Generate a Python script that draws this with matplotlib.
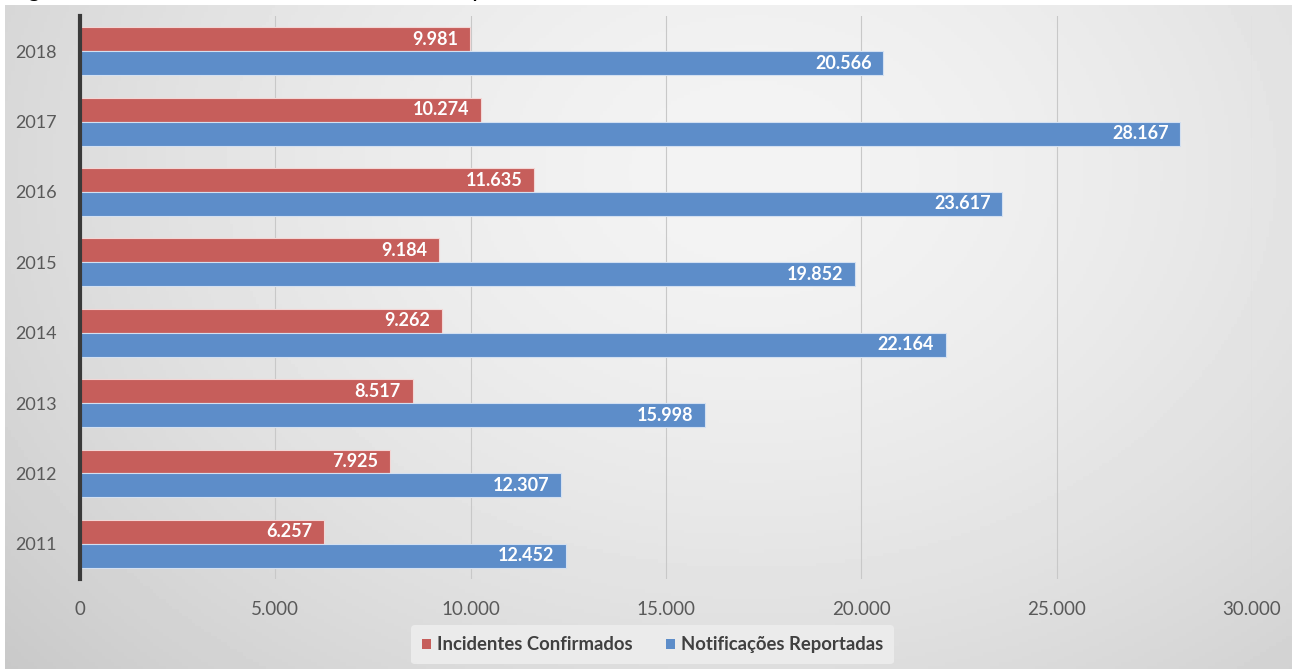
import matplotlib.pyplot as plt
import numpy as np
from matplotlib.ticker import FuncFormatter

years = ["2011", "2012", "2013", "2014", "2015", "2016", "2017", "2018"]
incidentes = [6257, 7925, 8517, 9262, 9184, 11635, 10274, 9981]
notificacoes = [12452, 12307, 15998, 22164, 19852, 23617, 28167, 20566]

red = "#C65E5B"
blue = "#5D8DC9"
text_gray = "#595959"
font = ["Lato", "DejaVu Sans"]


def thousands(v, _pos=None):
    return f"{int(v):,}".replace(",", ".")


fig = plt.figure(figsize=(12.92, 6.69), dpi=100)
fig.patch.set_facecolor("white")

# soft gray gradient panel behind the chart
bg = fig.add_axes([0.004, 0.0, 0.996, 0.992])
gx, gy = np.meshgrid(np.linspace(0, 1, 400), np.linspace(0, 1, 200))
dist = np.sqrt(((gx - 0.58) / 0.75) ** 2 + ((gy - 0.25) / 1.1) ** 2)
shade = np.clip(0.955 - 0.16 * dist ** 1.6, 0.78, 0.96)
bg.imshow(shade, cmap="gray", vmin=0, vmax=1, aspect="auto", extent=[0, 1, 0, 1])
bg.set_axis_off()

# caption above the panel (only its lower part sits inside the page)
fig.text(0.004, 1.0 + 4 / 669, "Figura 1 – Estatísticas de Incidentes Reportados ao CTIR Gov",
         fontsize=19, family=["Liberation Sans", "DejaVu Sans"], va="baseline", ha="left")

ax = fig.add_axes([0.0619, 0.1345, 0.907, 0.8415])
ax.patch.set_alpha(0)
y = np.arange(len(years))
h = 0.34
bars_r = ax.barh(y + h / 2, incidentes, height=h, color=red, edgecolor="#F3D6D5",
                 linewidth=0.8, label="Incidentes Confirmados", zorder=3)
bars_b = ax.barh(y - h / 2, notificacoes, height=h, color=blue, edgecolor="#D3E0F1",
                 linewidth=0.8, label="Notificações Reportadas", zorder=3)

for bars, vals in ((bars_r, incidentes), (bars_b, notificacoes)):
    for bar, v in zip(bars, vals):
        ax.text(v - 300, bar.get_y() + bar.get_height() / 2, thousands(v),
                ha="right", va="center", color="white", fontsize=13,
                fontweight="bold", family=font, zorder=4)

ax.set_xlim(0, 30000)
ax.set_ylim(-0.5, 7.5)
ax.set_xticks(range(0, 30001, 5000))
ax.xaxis.set_major_formatter(FuncFormatter(thousands))
ax.set_yticks(y)
ax.set_yticklabels(years)
ax.tick_params(axis="x", length=0, pad=16, labelsize=13.5, labelcolor=text_gray)
ax.tick_params(axis="y", length=0, pad=17, labelsize=13, labelcolor=text_gray)
for lbl in ax.get_xticklabels() + ax.get_yticklabels():
    lbl.set_family(font)

ax.grid(axis="x", color="#C8C8C8", linewidth=0.8, zorder=1)
ax.grid(axis="y", visible=False)
for side in ("top", "right", "bottom"):
    ax.spines[side].set_visible(False)
ax.spines["left"].set_color("#3A3A3A")
ax.spines["left"].set_linewidth(3)
ax.spines["left"].set_zorder(5)

leg = fig.legend(handles=[bars_r, bars_b], loc="center", bbox_to_anchor=(0.505, 0.036),
                 ncol=2, frameon=True, handlelength=0.5, handleheight=0.5,
                 handletextpad=0.3, columnspacing=1.8, borderpad=0.6,
                 prop={"family": font, "weight": "bold", "size": 13.3})
leg.get_frame().set_facecolor("#EDEDED")
leg.get_frame().set_edgecolor("none")
leg.get_frame().set_alpha(0.9)
for t in leg.get_texts():
    t.set_color("#404040")
for hnd in leg.legend_handles:
    hnd.set_edgecolor("none")

fig.savefig("out.png", dpi=100)
